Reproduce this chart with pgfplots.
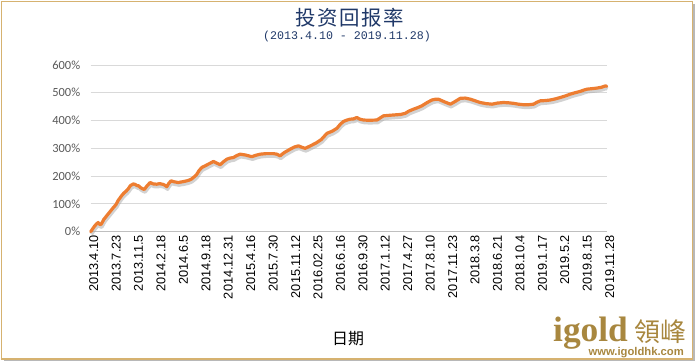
\documentclass[border=0pt]{standalone}
\usepackage{pgfplots}
\usepackage{pgfplotstable}
\pgfplotsset{compat=1.18}
\usepackage{fontspec}
\setmainfont{Liberation Sans}
\newfontfamily\cjk{Noto Sans CJK SC}
\newfontfamily\cjktitle[LetterSpace=8]{Noto Sans CJK SC}
\newfontfamily\cjktc{Noto Sans CJK TC}
\newfontfamily\calib{Carlito}
\newfontfamily\mono{Liberation Mono}
\newfontfamily\serifb{Liberation Serif}
\definecolor{lineorange}{HTML}{ED7D31}
\definecolor{navy}{HTML}{1F3868}
\definecolor{framegold}{HTML}{D6B270}
\definecolor{logogold}{HTML}{A8873F}
\definecolor{gridgray}{HTML}{D9D9D9}
\definecolor{ticklab}{HTML}{595959}

\pgfplotstableread{
x y
0.00 0
0.10 12
0.19 22
0.26 28
0.33 33
0.39 27
0.46 26
0.53 36
0.59 45
0.72 58
0.86 72
0.99 85
1.13 98
1.22 112
1.31 122
1.40 132
1.49 140
1.58 146
1.68 155
1.77 166
1.90 172
1.99 170
2.06 166
2.14 165
2.20 160
2.30 155
2.39 152
2.51 165
2.65 177
2.79 172
2.94 171
3.08 173
3.24 170
3.33 166
3.39 162
3.49 175
3.58 183
3.70 180
3.90 177
4.11 180
4.28 183
4.40 186
4.50 190
4.62 198
4.73 207
4.83 220
4.95 231
5.10 237
5.24 243
5.36 248
5.47 253
5.59 248
5.77 241
5.92 252
6.07 261
6.21 265
6.36 267
6.51 274
6.66 279
6.90 276
7.18 270
7.36 275
7.55 279
7.81 281
8.15 281
8.30 279
8.44 273
8.63 285
8.89 297
9.08 305
9.26 309
9.41 304
9.56 300
9.82 310
10.08 321
10.28 332
10.53 354
10.77 362
10.97 372
11.14 388
11.27 397
11.43 402
11.57 405
11.71 406
11.86 411
12.00 405
12.16 402
12.41 401
12.76 402
12.91 410
13.05 417
13.32 419
13.65 421
13.81 422
14.02 426
14.18 434
14.39 441
14.59 447
14.76 453
15.00 465
15.21 474
15.37 477
15.50 477
15.78 467
16.03 459
16.23 468
16.47 480
16.69 481
16.92 477
17.14 471
17.36 465
17.63 461
17.89 459
18.13 463
18.40 465
18.62 464
18.85 462
19.07 459
19.29 457
19.52 457
19.74 459
19.89 466
20.04 471
20.26 472
20.48 474
20.71 478
20.93 483
21.17 489
21.37 495
21.58 500
21.82 505
21.99 510
22.12 513
22.36 515
22.57 517
22.77 520
22.95 525
23.00 523
}\returndata

\begin{document}
\begin{tikzpicture}
\useasboundingbox (0bp,0bp) rectangle (695bp,-362bp);
% frame with shadow
\draw[black!28, line width=1.6bp] (4bp,-360.6bp) -- (694.2bp,-360.6bp) -- (694.2bp,-4bp);
\draw[framegold, line width=1.3bp] (1.5bp,-1.5bp) rectangle (692.5bp,-359bp);

\begin{axis}[
  at={(90.7bp,-231.7bp)}, anchor=south west,
  scale only axis, width=516bp, height=166.7bp,
  xmin=0, xmax=23, ymin=0, ymax=600,
  clip=false,
  separate axis lines,
  axis x line*=bottom,
  axis y line*=left,
  y axis line style={draw=none},
  x axis line style={draw=black!25, line width=0.9bp},
  major tick length=0pt,
  xtick={0,...,23},
  xticklabels={2013.4.10,2013.7.23,2013.11.5,2014.2.18,2014.6.5,2014.9.18,2014.12.31,2015.4.16,2015.7.30,2015.11.12,2016.02.25,2016.6.16,2016.9.30,2017.1.12,2017.4.27,2017.8.10,2017.11.23,2018.3.8,2018.6.21,2018.10.4,2019.1.17,2019.5.2,2019.8.15,2019.11.28},
  xticklabel style={rotate=90, anchor=east, font=\fontsize{12.8}{13}\selectfont, text=black, yshift=-3bp},
  ytick={0,100,...,600},
  yticklabel={\pgfmathprintnumber{\tick}\%},
  /pgf/number format/assume math mode=true,
  yticklabel style={font=\calib\fontsize{12.5}{13}\selectfont, text=ticklab, anchor=east, xshift=-7bp},
  ymajorgrids,
  major grid style={gridgray, line width=0.9bp},
]
\addplot[black!35, opacity=0.5, line width=3.4bp, no marks, line join=round, xshift=0.8bp, yshift=-2.6bp] table[x=x,y=y] {\returndata};
\addplot[lineorange, line width=3.2bp, no marks, line join=round, line cap=round] table[x=x,y=y] {\returndata};
\end{axis}

\node[navy, font=\cjktitle\fontsize{20.5}{21}\selectfont] at (350bp,-18bp) {投资回报率};
\node[navy, font=\mono\fontsize{11.7}{12}\selectfont] at (347bp,-36.5bp) {(2013.4.10 - 2019.11.28)};
\node[font=\cjk\fontsize{16}{16}\selectfont] at (348bp,-339bp) {日期};
\node[logogold, font=\serifb\bfseries\fontsize{35.5}{36}\selectfont, anchor=base west, inner sep=0pt, text depth=0pt] at (553bp,-341.5bp) {igold};
\node[logogold, font=\cjktc\fontsize{26}{26}\selectfont, inner sep=0pt] at (660bp,-331.5bp) {領峰};
\node[logogold, font=\bfseries\fontsize{11.3}{12}\selectfont, anchor=base east, inner sep=0pt, text height=7bp] at (684bp,-355bp) {www.igoldhk.com};
\end{tikzpicture}
\end{document}
